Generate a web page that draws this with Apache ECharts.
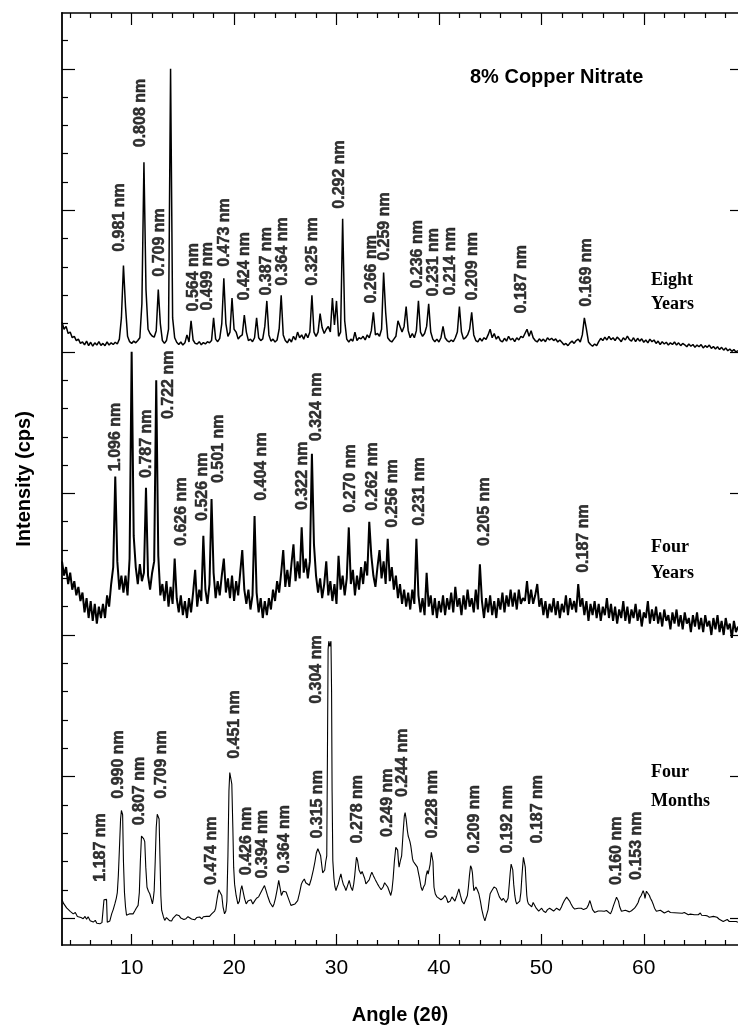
<!DOCTYPE html>
<html>
<head>
<meta charset="utf-8">
<script src="https://cdn.jsdelivr.net/npm/echarts@6.0.0/dist/echarts.min.js"></script>
<style>
html,body{margin:0;padding:0;background:#fff;}
#chart{width:738px;height:1030px;}
</style>
</head>
<body>
<div id="chart"></div>
<script>
// ---------------- DATA ----------------
// Sampling grid of the two noisy scans (2θ, degrees)
const scanStart = 3.2;
const scanStep = 0.2;

// Eight years (offset intensity, arbitrary cps units)
const eightYears = [
210.5,208,209,206.5,207,205,205.5,204,204.5,203,
203.5,202.5,203.8,202.2,203.4,202,203.2,202.4,203.6,202.3,
203,202.2,203.5,202.4,203.2,202.6,203.4,202.8,204.5,212,
230.5,216,205.5,203.6,203,203.8,203.2,204,205,217,
267,222,208,206.5,205.6,205.2,207.5,222,210,204,
203,204,208,300,212,205,203.4,202.6,203.5,202.4,
203.2,206,203.5,211,204.2,203,202.8,203.6,202.5,203.3,
202.8,203.6,203.2,204,212,204.5,203.6,204.8,210,226,
210,205.5,207,219,208,207,204.5,205.5,206,213,
207,204,204.5,203.6,205,212,205,204,204.6,209,
218,206,203.8,204.5,203.5,204.2,208,220,206,204,
203.2,204.6,203.5,205.5,204.2,207,205,206,204.5,206.5,
205,207,220,207,205.5,207,213.5,208.5,206.5,208,
209,207,219,209.5,218,205.5,207,247,211,204.5,
203.5,204.5,203.8,207,204,205,204.6,205.5,204.2,206,
205,207.5,214,206,206.5,205.5,208,228,214,205,
204,203.5,204.5,205.5,211,209,207,209,216,207.5,
205,206.5,205,207.5,218,207,205.5,206.5,209,217,
207,204.5,203.6,204.5,203.5,205,209,205,204,203.5,
204.2,203.6,205,207,216,207,204.5,205,206,208,
214,206,204,203.5,204.8,203.8,205,204.4,206,208,
205,206.5,204.5,205.5,204,203.5,204.8,203.8,205.5,204.2,
204.8,203.6,205,204.2,205.5,205,206.5,208,205.5,207.5,
205,204,203.5,204.6,203.8,204.5,203.6,205,204.2,204.8,
204,204.6,203.5,204.2,203.4,202.5,203,202.2,203.2,203.8,
203,204,204.5,203.5,206,212,208,203.5,202.6,202,
202.8,202.2,203.6,204.8,204,205.2,204.2,205.5,204.3,205,
204,205.2,204.5,203.6,205,204.2,205.6,204.3,203.8,205,
203.6,204.8,203.8,204.6,203.4,204.2,203.2,204.5,203.6,204.2,
203,203.8,202.6,203.6,202.8,203.4,202.4,203.2,202.6,203.5,
202.4,203.2,202.2,203,202.5,201.8,202.8,202,202.6,201.6,
202.4,201.8,202.6,201.4,202.2,201.6,202.4,201.2,201.9,201,
201.8,200.8,201.6,200.6,201.4,200.4,201,200.2,200.8,200,
200.4
];

// Four years
const fourYears = [
126,121,124,118,122,116,119,114,117,112,
115,108,113,106,112,105,111,104,110,106,
111,106,114,110,118,124,156,126,116,121,
115,121,114,127,200,135,124,118,125,119,
122,152,121,116,122,126,190,128,114,118,
112,119,110,117,111,127,113,108,114,107,
112,106,113,108,115,123,110,116,112,135,
116,111,118,148,122,113,119,114,121,127,
115,120,113,121,112,119,114,122,130,116,
111,116,109,114,142,115,108,113,106,112,
107,113,109,116,112,119,115,122,130,117,
123,117,125,132,119,126,120,138,122,127,
120,126,164,132,121,115,120,113,118,126,
114,119,112,118,111,128,116,121,114,120,
138,118,123,114,121,116,124,118,126,121,
140,128,121,117,124,130,120,126,118,134,
119,124,116,121,113,118,111,116,110,115,
109,116,111,134,114,108,113,107,122,110,
114,107,113,106,112,108,114,107,113,109,
115,108,117,110,113,107,114,109,116,110,
113,108,116,109,125,112,106,113,108,114,
107,112,106,113,109,115,108,114,110,116,
110,115,109,116,111,113,112,119,111,116,
111,114,118,110,113,107,112,106,111,108,
113,107,112,106,111,108,114,107,113,109,
112,108,118,110,113,107,112,105,111,107,
112,106,111,105,110,107,113,106,111,105,
110,104,109,106,112,105,110,104,109,106,
111,105,109,103,108,106,112,104,109,105,
110,104,108,103,109,105,107,102,108,104,
109,103,107,102,108,104,106,101,107,103,
108,102,106,101,107,103,105,100,106,102,
107,101,105,100,106,102,104,99,105,101,
103
];

// Four months: [2θ, intensity]
const fourMonths = [
[3.2,6.5],[3.35,5.2],[3.5,5.8],[3.65,3.6],[3.8,4.2],[4.0,2.4],[4.15,2.9],[4.3,1.5],[4.5,2],[4.7,0.6],[4.85,1.2],[5.05,0.2],[5.27,-0.2],[5.45,0.6],[5.6,-0.4],[5.75,0.5],[5.95,-0.9],[6.1,-0.3],[6.25,-1.4],[6.45,-0.8],[6.6,-1.8],[6.75,-1.2],[6.9,-2],[7.1,-1.6],[7.22,-1.8],[7.3,6.5],[7.45,6.8],[7.55,6.6],[7.62,-1.5],[7.72,-2],[7.87,-1],
[8.05,1.5],[8.2,3],[8.36,5],[8.5,7],[8.6,9],[8.7,15],[8.8,24],[8.92,35],[9.0,38],[9.12,36.5],[9.2,20],[9.3,9],[9.4,4],[9.5,1],[9.65,1.2],[9.82,1.5],[10.0,1],[10.14,1.5],[10.3,2.5],[10.45,3.5],[10.63,4.5],[10.75,9],[10.85,20],[10.96,29],[11.08,28.5],[11.18,28],[11.28,27],[11.38,18],[11.5,10.9],[11.64,9.5],[11.77,8.6],[11.9,7],[12.03,5],[12.12,7],[12.2,9.7],[12.3,20],[12.4,32],[12.5,36.7],[12.6,36],[12.68,35],[12.76,22],[12.85,8],[12.93,2.8],
[13.1,0.5],[13.23,-0.8],[13.4,0.2],[13.55,-0.2],[13.7,-0.9],[13.9,-1],[14.05,0],[14.2,0.3],[14.38,1.2],[14.52,1.8],[14.65,0.8],[14.8,0],[14.95,0.4],[15.1,-0.5],[15.3,-0.2],[15.5,0.5],[15.66,0.2],[15.85,-0.3],[16.0,0.3],[16.15,-0.6],[16.35,0.2],[16.5,-0.2],[16.64,0.4],[16.85,-0.3],[17.0,0.5],[17.12,-0.2],[17.3,0.6],[17.42,1],[17.6,0.6],[17.81,1.5],[17.95,1.2],[18.1,2.5],[18.2,3.5],[18.35,7],[18.5,10],[18.65,10.3],[18.8,8],[18.92,4],[19.07,1.5],[19.2,2.5],[19.3,6],[19.4,22],[19.5,45],[19.58,51.4],[19.7,49],[19.78,47.3],[19.88,32],[19.96,18],[20.05,12],[20.2,8],[20.37,5],[20.52,6],[20.65,10],[20.76,11.5],[20.9,11],[21.02,7],[21.18,5],[21.35,6],[21.5,5.5],[21.65,6.5],[21.83,5],[22.0,6],[22.19,7],[22.4,7.5],[22.58,8],[22.75,10],[22.97,11.5],[23.1,10],[23.26,8],[23.5,5.5],[23.77,3.9],[23.9,5],[24.04,7],[24.2,10],[24.36,13.3],[24.5,10.5],[24.62,8],[24.8,9.5],[24.95,9.2],[25.08,9.2],[25.25,7.5],[25.4,6],[25.55,4.5],[25.73,3.9],[25.95,5],[26.21,6.2],[26.4,9],[26.57,12],[26.7,13],[26.86,13.8],[27.0,12.5],[27.15,13],[27.35,11.6],[27.55,14],[27.74,17],[27.9,20],[28.03,23],[28.18,24.5],[28.32,24.4],[28.45,22],[28.55,19],[28.65,16],[28.75,15.6],[28.85,17],[28.95,20],[29.05,22],[29.12,60],[29.18,95],[29.25,97.8],[29.35,96],[29.46,97.8],[29.52,80],[29.57,45],[29.64,20.3],[29.75,14],[29.85,11],[29.95,9.7],
[30.06,11],[30.17,12],[30.3,14],[30.43,15.6],[30.55,13.5],[30.66,12],[30.8,11],[30.92,9.7],[31.08,11.5],[31.24,13.3],[31.4,11],[31.56,9.7],[31.68,12],[31.78,15],[31.88,19],[31.95,21.5],[32.05,20.5],[32.2,17],[32.38,15.6],[32.5,16.5],[32.61,16.5],[32.75,14],[32.87,12.1],[33.0,12.5],[33.19,13.5],[33.32,15],[33.45,16.2],[33.6,15],[33.8,13.5],[34.0,12.1],[34.18,11],[34.36,10],[34.55,11],[34.7,12.5],[34.82,12.1],[35.0,11],[35.15,9.5],[35.3,8],[35.42,10],[35.53,14],[35.65,20],[35.79,25],[35.9,25.5],[35.97,24],[36.05,20],[36.11,18],[36.22,20],[36.36,22],[36.5,30],[36.62,36],[36.7,37.3],[36.8,35],[36.92,30.9],[37.0,29],[37.09,28],[37.17,27],[37.25,25.6],[37.35,23],[37.42,21],[37.5,20],[37.57,20.3],[37.7,19],[37.89,18],[38.0,16],[38.11,14],[38.25,11],[38.38,9.7],[38.5,11],[38.64,12],[38.75,15],[38.87,16.8],[38.95,15.5],[39.03,15],[39.14,19],[39.26,23.2],[39.34,22.5],[39.42,20],[39.48,14],[39.52,10.9],[39.65,8.5],[39.81,7.5],
[40.0,7],[40.2,6.5],[40.4,7],[40.59,8],[40.75,7],[40.88,5.5],[41.1,6],[41.27,7.5],[41.42,7],[41.56,6],[41.75,8],[41.95,10.3],[42.1,8],[42.25,6],[42.45,5],[42.64,5.5],[42.78,8],[42.88,11],[42.98,15],[43.09,18.5],[43.2,17.5],[43.27,16],[43.35,12],[43.41,9.7],[43.5,10],[43.61,11],[43.75,10],[43.9,8.6],[44.05,6],[44.19,3],[44.35,0.5],[44.49,-1],[44.6,-1.5],[44.68,-0.8],[44.8,3],[44.9,6],[45.0,8.6],[45.13,9.5],[45.26,10],[45.38,11],[45.49,11.5],[45.6,10.5],[45.75,9],[45.9,7.5],[46.0,7],[46.14,6.2],[46.28,7],[46.43,7],[46.55,5.5],[46.63,5],[46.75,7],[46.87,12],[46.96,16],[47.05,19.1],[47.13,18.5],[47.21,17],[47.3,12],[47.41,8],[47.5,6],[47.6,5],[47.75,5],[47.89,6],[48.0,9],[48.09,14],[48.17,18],[48.25,21.5],[48.34,21],[48.43,18],[48.5,13],[48.58,8],[48.65,6],[48.74,5],[48.9,4.5],[49.06,4],[49.2,5.5],[49.35,5],[49.5,3.5],[49.62,4],[49.74,2.5],[49.9,3],
[50.03,3.5],[50.2,2.5],[50.42,2],[50.6,3],[50.81,3.5],[51.0,3],[51.2,2.5],[51.35,3.2],[51.49,3.5],[51.65,2.8],[51.79,2.8],[51.95,3.8],[52.08,5],[52.25,6.2],[52.47,7.4],[52.6,7],[52.76,6],[52.9,5],[53.05,4],[53.25,3.2],[53.44,2.7],[53.6,3.5],[53.73,4],[53.9,3.5],[54.12,3],[54.28,3.5],[54.42,3.5],[54.58,4.5],[54.74,6.2],[54.88,4.5],[55.0,3],[55.2,2],[55.39,1.5],[55.55,2.5],[55.68,3],[55.85,2.5],[55.97,2],[56.15,2.4],[56.36,2.7],[56.55,2],[56.75,1.5],[56.9,2.8],[57.05,4.5],[57.2,6],[57.34,7.4],[57.45,7],[57.53,6],[57.65,4],[57.82,2.4],[58.0,2.5],[58.21,2.8],[58.4,2.4],[58.6,2.2],[58.8,2.6],[58.96,3],[59.1,3.5],[59.29,4.5],[59.45,5.5],[59.58,7],[59.75,8],[59.94,9.7],
[60.05,8.5],[60.12,7],[60.2,8.5],[60.26,9.5],[60.35,9.4],[60.42,9.2],[60.55,8],[60.65,7],[60.8,6],[60.91,5],[61.05,3.5],[61.23,2.4],[61.42,2.6],[61.62,2.8],[61.8,2.2],[62.01,1.8],[62.2,2.2],[62.4,2.5],[62.6,2],[62.79,1.5],[63.0,1.9],[63.18,2.2],[63.38,1.8],[63.57,1.4],[63.76,1.7],[63.96,2],[64.15,1.5],[64.35,1.2],[64.55,1.4],[64.74,1],[64.95,1.2],[65.13,0.8],[65.32,1.2],[65.52,1.8],[65.65,1],[65.81,0.5],[66.0,0.9],[66.2,0.8],[66.4,0.3],[66.59,0],[66.8,0.6],[66.98,1.2],[67.15,0.3],[67.37,-0.4],[67.55,-0.8],[67.76,-1.2],[67.95,-0.6],[68.15,-0.5],[68.35,-1.2],[68.54,-1.8],[68.75,-1.2],[68.9,-1.5],[69.03,-1.2],[69.2,-1.5]
];

// d-spacing annotations: [2θ, intensity at label foot, text]
const eightYearsPeaks = [
[8.92,235.2,'0.981 nm'],[10.96,272.1,'0.808 nm'],[12.75,226.4,'0.709 nm'],[16.05,214.1,'0.564 nm'],
[17.51,214.4,'0.499 nm'],[19.17,229.9,'0.473 nm'],[21.1,218,'0.424 nm'],[23.19,219.7,'0.387 nm'],
[24.75,223.2,'0.364 nm'],[27.74,223.2,'0.325 nm'],[30.34,250.4,'0.292 nm'],[33.51,216.9,'0.266 nm'],
[34.75,232,'0.259 nm'],[37.96,222.2,'0.236 nm'],[39.49,219.4,'0.231 nm'],[41.2,219.7,'0.214 nm'],
[43.32,218,'0.209 nm'],[48.09,213.4,'0.187 nm'],[54.42,215.8,'0.169 nm']
];
const fourYearsPeaks = [
[8.46,157.7,'1.096 nm'],[11.51,155.3,'0.787 nm'],[13.62,176.1,'0.722 nm'],[14.95,131.3,'0.626 nm'],
[16.96,140.1,'0.526 nm'],[18.58,153.5,'0.501 nm'],[22.7,147.2,'0.404 nm'],[26.7,144,'0.322 nm'],
[28.06,168.3,'0.324 nm'],[31.41,143,'0.270 nm'],[33.58,143.7,'0.262 nm'],[35.53,137.7,'0.256 nm'],
[38.13,138.4,'0.231 nm'],[44.49,131.3,'0.205 nm'],[54.15,121.8,'0.187 nm']
];
const fourMonthsPeaks = [
[6.97,12.7,'1.187 nm'],[8.77,42,'0.990 nm'],[10.87,32.6,'0.807 nm'],[12.99,42,'0.709 nm'],
[17.85,11.5,'0.474 nm'],[20.12,56.1,'0.451 nm'],[21.26,15,'0.426 nm'],[22.87,13.8,'0.394 nm'],
[25.0,15.6,'0.364 nm'],[28.22,27.9,'0.315 nm'],[28.1,75.5,'0.304 nm'],[32.14,26.2,'0.278 nm'],
[35.06,28.5,'0.249 nm'],[36.5,42.6,'0.244 nm'],[39.44,27.9,'0.228 nm'],[43.49,22.6,'0.209 nm'],
[46.79,22.6,'0.192 nm'],[49.71,26.2,'0.187 nm'],[57.42,11.5,'0.160 nm'],[59.36,13.3,'0.153 nm']
];

// Tick values
const angleTicks = [10,20,30,40,50,60];
const angleMinorTicks = [4,6,8,12,14,16,18,22,24,26,28,32,34,36,38,42,44,46,48,52,54,56,58,62,64,66,68];
const intensityTicks = [0,50,100,150,200,250,300];
const intensityMinorTicks = [10,20,30,40,60,70,80,90,110,120,130,140,160,170,180,190,210,220,230,240,260,270,280,290,310];

// ---------------- CHART ----------------
const SANS = "'Liberation Sans', Arial, Helvetica, sans-serif";
const SERIF = "'Liberation Serif', 'Times New Roman', serif";
const AX_MIN = 3.2, AX_MAX = 69.2, AY_MIN = -9.5, AY_MAX = 319.7;

const onGrid = vals => vals.map((v, i) => [scanStart + i * scanStep, v]);

function xAx(pos, ticks, len, showLine, labels) {
  return {
    type: 'value', position: pos, min: AX_MIN, max: AX_MAX, offset: 0,
    axisLine: {show: showLine, onZero: false, lineStyle: {color: '#000', width: 1.7}},
    axisTick: {show: true, inside: true, length: len, customValues: ticks, lineStyle: {color: '#000', width: 1.2}},
    axisLabel: labels ? {show: true, customValues: ticks, color: '#000', fontFamily: SANS, fontSize: 21, margin: 13} : {show: false},
    splitLine: {show: false}
  };
}
function yAx(pos, ticks, len, showLine) {
  return {
    type: 'value', position: pos, min: AY_MIN, max: AY_MAX, offset: 0,
    axisLine: {show: showLine, onZero: false, lineStyle: {color: '#000', width: 1.8}},
    axisTick: {show: true, inside: true, length: len, customValues: ticks, lineStyle: {color: '#000', width: 1.2}},
    axisLabel: {show: false},
    splitLine: {show: false}
  };
}

const xAxes = [
  Object.assign(xAx('bottom', angleTicks, 11, true, true), {
    name: 'Angle (2θ)', nameLocation: 'middle', nameGap: 60,
    nameTextStyle: {color: '#000', fontFamily: SANS, fontWeight: 'bold', fontSize: 20}
  }),
  xAx('bottom', angleMinorTicks, 5, false, false),
  xAx('top', angleTicks, 12, true, false),
  xAx('top', angleMinorTicks, 5, false, false)
];
const yAxes = [
  Object.assign(yAx('left', intensityTicks, 13, true), {
    name: 'Intensity (cps)', nameLocation: 'middle', nameGap: 28, nameRotate: 90,
    nameTextStyle: {color: '#000', fontFamily: SANS, fontWeight: 'bold', fontSize: 20}
  }),
  yAx('left', intensityMinorTicks, 6, false),
  yAx('right', intensityTicks, 8, false)
];

function lineSeries(name, data, width) {
  return {
    name, type: 'line', xAxisIndex: 0, yAxisIndex: 0, data, symbol: 'none',
    showSymbol: false, silent: true, animation: false, clip: true,
    lineStyle: {color: '#000', width: width}, z: 3
  };
}
function labelSeries(name, arr) {
  return {
    name, type: 'scatter', xAxisIndex: 0, yAxisIndex: 0, symbol: 'circle', symbolSize: 1, silent: true, animation: false, z: 5,
    itemStyle: {color: 'rgba(0,0,0,0)'},
    data: arr.map(a => ({value: [a[0], a[1]], name: a[2]})),
    label: {
      show: true, formatter: p => p.name, rotate: 90, position: [0, 0],
      align: 'left', verticalAlign: 'middle',
      fontFamily: SANS, fontWeight: 'bold', fontSize: 16, color: '#000',
      textBorderColor: '#000', textBorderWidth: 0.5
    },
    labelLayout: {hideOverlap: false}
  };
}

const sampleStyle = lh => ({color: '#000', fontFamily: SERIF, fontWeight: 'bold', fontSize: 18, lineHeight: lh});

const option = {
  backgroundColor: '#fff',
  animation: false,
  grid: {left: 62, width: 678, top: 13, bottom: 82, containLabel: false},
  title: [
    {text: '8% Copper Nitrate', left: 470, top: 67, padding: 0,
     textStyle: {color: '#000', fontFamily: SANS, fontWeight: 'bold', fontSize: 20}},
    {text: 'Eight\nYears', left: 651, top: 268, padding: 0, textStyle: sampleStyle(24)},
    {text: 'Four\nYears', left: 651, top: 534, padding: 0, textStyle: sampleStyle(26)},
    {text: 'Four\nMonths', left: 651, top: 758, padding: 0, textStyle: sampleStyle(29)}
  ],
  xAxis: xAxes,
  yAxis: yAxes,
  series: [
    lineSeries('Eight Years', onGrid(eightYears), 1.5),
    lineSeries('Four Years', onGrid(fourYears), 2),
    lineSeries('Four Months', fourMonths, 1.1),
    labelSeries('Eight Years d', eightYearsPeaks),
    labelSeries('Four Years d', fourYearsPeaks),
    labelSeries('Four Months d', fourMonthsPeaks)
  ]
};

const chart = echarts.init(document.getElementById('chart'), null, {renderer: 'canvas'});
chart.setOption(option);
</script>
</body>
</html>
